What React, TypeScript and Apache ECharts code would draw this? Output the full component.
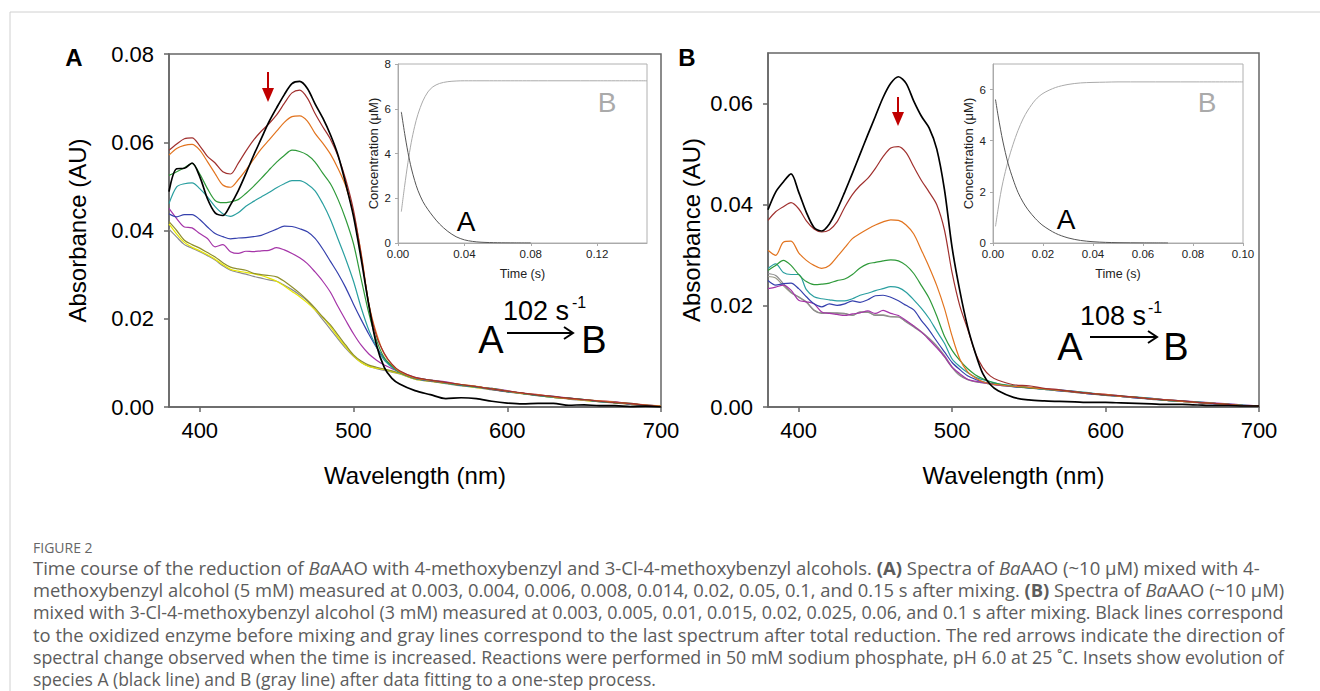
import React, { useEffect, useRef } from 'react';
import * as echarts from 'echarts';

const FONT = "'Liberation Sans', Arial, Helvetica, sans-serif";
const CAPTION_FONT = "'Open Sans', 'Noto Sans', sans-serif";

// ---------------- DATA ----------------
const wavelengths = [380,385,390,395,400,405,410,415,420,425,430,435,440,445,450,455,460,465,470,475,480,485,490,495,500,505,510,515,520,525,530,540,550,560,570,580,590,600,610,620,630,640,650,660,670,680,690,700];
const wlTicks = [400, 500, 600, 700];
const absTicksA = [0, 0.02, 0.04, 0.06, 0.08];
const absTicksB = [0, 0.02, 0.04, 0.06];

// Panel A spectra (AU)
const aBlack = [0.0488,0.0540,0.0541,0.0553,0.0522,0.0472,0.0440,0.0434,0.0458,0.0490,0.0529,0.0570,0.0608,0.0646,0.0678,0.0708,0.0733,0.0738,0.0722,0.0687,0.0655,0.0617,0.0570,0.0505,0.0432,0.0335,0.0230,0.0140,0.0090,0.0065,0.0052,
  0.0037,0.0028,0.0019,0.0021,0.0019,0.0013,0.0009,0.0007,0.0008,0.0008,0.0004,0.0005,0.0003,0.0003,0.0001,0.0002,0.0000];
const aT003 = [0.0582,0.0596,0.0608,0.0610,0.0592,0.0568,0.0553,0.0533,0.0528,0.0552,0.0580,0.0605,0.0625,0.0642,0.0662,0.0688,0.0712,0.0718,0.0700,0.0665,0.0635,0.0607,0.0568,0.0515,0.0446,0.0345,0.0232,0.0160,0.0122,0.0097,0.0082,
  0.0067,0.0061,0.0056,0.0051,0.0046,0.0041,0.0036,0.0032,0.0027,0.0024,0.0020,0.0017,0.0013,0.0010,0.0008,0.0004,0.0001];
const aT004 = [0.0571,0.0586,0.0593,0.0595,0.0582,0.0556,0.0529,0.0503,0.0498,0.0515,0.0537,0.0561,0.0585,0.0605,0.0625,0.0645,0.0658,0.0660,0.0648,0.0620,0.0598,0.0573,0.0540,0.0500,0.0438,0.0348,0.0234,0.0166,0.0120,0.0096,0.0080,
  0.0066,0.0060,0.0055,0.0051,0.0047,0.0041,0.0036,0.0031,0.0028,0.0023,0.0019,0.0016,0.0014,0.0011,0.0007,0.0005,0.0002];
const aT006 = [0.0525,0.0533,0.0542,0.0552,0.0528,0.0495,0.0468,0.0463,0.0465,0.0470,0.0484,0.0500,0.0518,0.0537,0.0555,0.0570,0.0582,0.0579,0.0571,0.0555,0.0530,0.0506,0.0470,0.0425,0.0370,0.0290,0.0212,0.0151,0.0112,0.0093,0.0079,
  0.0066,0.0061,0.0055,0.0050,0.0046,0.0042,0.0036,0.0031,0.0027,0.0023,0.0020,0.0017,0.0013,0.0010,0.0008,0.0004,0.0002];
const aT008 = [0.0461,0.0499,0.0506,0.0508,0.0495,0.0476,0.0454,0.0438,0.0432,0.0440,0.0455,0.0466,0.0476,0.0486,0.0497,0.0506,0.0513,0.0513,0.0505,0.0490,0.0461,0.0425,0.0380,0.0335,0.0285,0.0225,0.0174,0.0136,0.0106,0.0090,0.0078,
  0.0065,0.0060,0.0054,0.0050,0.0045,0.0041,0.0035,0.0030,0.0026,0.0022,0.0020,0.0016,0.0012,0.0010,0.0007,0.0004,0.0001];
const aT014 = [0.0438,0.0431,0.0436,0.0436,0.0425,0.0408,0.0393,0.0386,0.0381,0.0383,0.0384,0.0386,0.0389,0.0396,0.0403,0.0410,0.0409,0.0404,0.0397,0.0382,0.0358,0.0330,0.0302,0.0270,0.0233,0.0198,0.0165,0.0135,0.0110,0.0091,0.0079,
  0.0065,0.0059,0.0055,0.0049,0.0046,0.0040,0.0035,0.0031,0.0026,0.0024,0.0019,0.0017,0.0012,0.0011,0.0006,0.0005,0.0001];
const aT020 = [0.0450,0.0427,0.0408,0.0406,0.0393,0.0382,0.0363,0.0368,0.0352,0.0348,0.0353,0.0352,0.0354,0.0355,0.0361,0.0356,0.0348,0.0338,0.0325,0.0306,0.0285,0.0260,0.0227,0.0196,0.0166,0.0140,0.0120,0.0106,0.0095,0.0087,0.0080,
  0.0067,0.0061,0.0057,0.0050,0.0046,0.0042,0.0037,0.0031,0.0028,0.0023,0.0021,0.0016,0.0014,0.0012,0.0007,0.0004,0.0002];
const aT050 = [0.0420,0.0400,0.0378,0.0368,0.0360,0.0350,0.0340,0.0327,0.0317,0.0313,0.0310,0.0303,0.0300,0.0298,0.0295,0.0285,0.0272,0.0258,0.0242,0.0224,0.0204,0.0186,0.0163,0.0140,0.0118,0.0104,0.0095,0.0090,0.0086,0.0082,0.0077,
  0.0064,0.0059,0.0054,0.0049,0.0045,0.0040,0.0035,0.0031,0.0026,0.0022,0.0019,0.0016,0.0013,0.0010,0.0007,0.0004,0.0001];
const aT100 = [0.0415,0.0392,0.0373,0.0362,0.0354,0.0345,0.0335,0.0323,0.0312,0.0308,0.0305,0.0302,0.0298,0.0292,0.0285,0.0274,0.0262,0.0250,0.0236,0.0220,0.0203,0.0182,0.0158,0.0136,0.0116,0.0101,0.0092,0.0088,0.0085,0.0080,0.0076,
  0.0063,0.0058,0.0054,0.0049,0.0044,0.0040,0.0035,0.0030,0.0026,0.0022,0.0019,0.0015,0.0012,0.0010,0.0006,0.0004,0.0001];
const aT150 = [0.0403,0.0385,0.0368,0.0360,0.0352,0.0343,0.0333,0.0320,0.0310,0.0305,0.0301,0.0296,0.0292,0.0288,0.0285,0.0276,0.0266,0.0254,0.0240,0.0220,0.0198,0.0176,0.0154,0.0133,0.0115,0.0101,0.0092,0.0087,0.0083,0.0079,0.0075,
  0.0063,0.0058,0.0053,0.0048,0.0044,0.0039,0.0034,0.0030,0.0025,0.0022,0.0018,0.0015,0.0012,0.0009,0.0006,0.0003,0.0001];

// Panel B spectra (AU)
const bBlack = [0.0390,0.0425,0.0445,0.0461,0.0425,0.0385,0.0355,0.0348,0.0362,0.0390,0.0425,0.0462,0.0500,0.0538,0.0575,0.0612,0.0640,0.0653,0.0640,0.0605,0.0575,0.0552,0.0510,0.0430,0.0315,0.0230,0.0160,0.0108,0.0066,0.0044,0.0032,
  0.0019,0.0014,0.0012,0.0011,0.0010,0.0009,0.0009,0.0008,0.0007,0.0006,0.0005,0.0005,0.0004,0.0003,0.0003,0.0002,0.0002];
const bT003 = [0.0369,0.0386,0.0396,0.0404,0.0392,0.0368,0.0352,0.0346,0.0350,0.0366,0.0395,0.0420,0.0438,0.0452,0.0472,0.0495,0.0512,0.0515,0.0503,0.0475,0.0448,0.0425,0.0400,0.0350,0.0265,0.0200,0.0155,0.0108,0.0078,0.0061,0.0053,
  0.0044,0.0042,0.0037,0.0034,0.0030,0.0027,0.0024,0.0022,0.0019,0.0016,0.0014,0.0012,0.0009,0.0007,0.0005,0.0003,0.0002];
const bT005 = [0.0310,0.0300,0.0326,0.0328,0.0305,0.0290,0.0280,0.0274,0.0280,0.0297,0.0315,0.0333,0.0343,0.0352,0.0360,0.0366,0.0370,0.0369,0.0360,0.0342,0.0310,0.0277,0.0240,0.0195,0.0140,0.0095,0.0070,0.0058,0.0050,0.0046,0.0044,
  0.0041,0.0039,0.0036,0.0033,0.0030,0.0027,0.0025,0.0021,0.0019,0.0016,0.0014,0.0011,0.0009,0.0007,0.0005,0.0003,0.0002];
const bT010 = [0.0270,0.0280,0.0290,0.0280,0.0262,0.0248,0.0242,0.0243,0.0245,0.0250,0.0253,0.0262,0.0275,0.0283,0.0286,0.0289,0.0291,0.0289,0.0280,0.0264,0.0240,0.0215,0.0180,0.0140,0.0112,0.0092,0.0076,0.0064,0.0056,0.0050,0.0046,
  0.0041,0.0038,0.0036,0.0033,0.0030,0.0027,0.0024,0.0022,0.0019,0.0016,0.0013,0.0011,0.0009,0.0007,0.0005,0.0003,0.0002];
const bT015 = [0.0274,0.0283,0.0266,0.0262,0.0262,0.0232,0.0218,0.0214,0.0212,0.0210,0.0210,0.0214,0.0221,0.0225,0.0230,0.0234,0.0238,0.0236,0.0227,0.0212,0.0195,0.0175,0.0150,0.0126,0.0095,0.0080,0.0068,0.0059,0.0054,0.0050,0.0046,
  0.0042,0.0039,0.0035,0.0034,0.0031,0.0028,0.0024,0.0021,0.0020,0.0017,0.0014,0.0012,0.0010,0.0007,0.0005,0.0004,0.0002];
const bT020 = [0.0250,0.0241,0.0244,0.0245,0.0234,0.0218,0.0204,0.0198,0.0204,0.0201,0.0204,0.0210,0.0207,0.0212,0.0220,0.0221,0.0217,0.0210,0.0201,0.0192,0.0171,0.0152,0.0130,0.0109,0.0088,0.0074,0.0062,0.0055,0.0050,0.0047,0.0045,
  0.0040,0.0038,0.0036,0.0032,0.0030,0.0026,0.0024,0.0021,0.0018,0.0016,0.0013,0.0011,0.0009,0.0006,0.0005,0.0003,0.0001];
const bT025 = [0.0234,0.0237,0.0241,0.0231,0.0211,0.0208,0.0204,0.0188,0.0185,0.0183,0.0181,0.0184,0.0186,0.0190,0.0185,0.0191,0.0185,0.0181,0.0171,0.0160,0.0148,0.0133,0.0117,0.0100,0.0079,0.0066,0.0055,0.0051,0.0048,0.0046,0.0043,
  0.0041,0.0039,0.0036,0.0034,0.0031,0.0027,0.0025,0.0022,0.0019,0.0017,0.0014,0.0012,0.0010,0.0008,0.0006,0.0004,0.0002];
const bT060 = [0.0258,0.0255,0.0240,0.0226,0.0217,0.0207,0.0192,0.0186,0.0186,0.0185,0.0184,0.0182,0.0187,0.0187,0.0182,0.0182,0.0179,0.0178,0.0169,0.0160,0.0149,0.0136,0.0121,0.0102,0.0079,0.0063,0.0055,0.0050,0.0048,0.0045,0.0043,
  0.0040,0.0038,0.0035,0.0033,0.0029,0.0026,0.0023,0.0021,0.0018,0.0016,0.0013,0.0011,0.0009,0.0007,0.0005,0.0003,0.0002];
const bT100 = [0.0264,0.0260,0.0244,0.0227,0.0218,0.0208,0.0191,0.0185,0.0186,0.0186,0.0185,0.0181,0.0188,0.0188,0.0181,0.0181,0.0178,0.0178,0.0168,0.0158,0.0148,0.0135,0.0120,0.0099,0.0078,0.0062,0.0054,0.0050,0.0048,0.0045,0.0043,
  0.0040,0.0038,0.0035,0.0032,0.0029,0.0026,0.0023,0.0021,0.0018,0.0015,0.0013,0.0011,0.0008,0.0007,0.0005,0.0003,0.0002];

// Inset A (concentration, µM vs time, s)
const insetATime = [0.002,0.004,0.006,0.008,0.010,0.012,0.015,0.018,0.021,0.025,0.03,0.035,0.04,0.045,0.05,0.06,0.07,0.08,0.1,0.12,0.15];
const insetASpeciesA = [5.86,4.9,4.05,3.35,2.8,2.35,1.85,1.5,1.2,0.85,0.52,0.28,0.14,0.07,0.035,0.01,0.003,0.0,null,null,null];
const insetASpeciesB = [1.4,2.55,3.6,4.5,5.2,5.75,6.35,6.75,6.98,7.13,7.21,7.24,7.25,7.25,7.25,7.25,7.25,7.25,7.25,7.25,7.25];
const insetAXTicks = [0, 0.04, 0.08, 0.12];
const insetAYTicks = [0, 2, 4, 6, 8];

// Inset B
const insetBTime = [0.001,0.002,0.003,0.004,0.006,0.008,0.010,0.012,0.014,0.017,0.02,0.025,0.03,0.035,0.04,0.045,0.05,0.06,0.07,0.08,0.1];
const insetBSpeciesA = [5.61,5.0,4.45,3.95,3.12,2.5,1.98,1.6,1.3,0.95,0.68,0.38,0.2,0.1,0.05,0.025,0.012,0.003,0.0,null,null];
const insetBSpeciesB = [0.65,1.3,1.9,2.4,3.2,3.85,4.4,4.85,5.2,5.6,5.85,6.08,6.2,6.26,6.28,6.29,6.3,6.3,6.3,6.3,6.3];
const insetBXTicks = [0, 0.02, 0.04, 0.06, 0.08, 0.1];
const insetBYTicks = [0, 2, 4, 6];

// Caption
type Seg = { t: string; s?: 'i' | 'b' };
const captionTitle = 'FIGURE 2';
const captionLines: Seg[][] = [
  [{ t: 'Time course of the reduction of ' }, { t: 'Ba', s: 'i' }, { t: 'AAO with 4-methoxybenzyl and 3-Cl-4-methoxybenzyl alcohols. ' }, { t: '(A)', s: 'b' }, { t: ' Spectra of ' }, { t: 'Ba', s: 'i' }, { t: 'AAO (~10 μM) mixed with 4-' }],
  [{ t: 'methoxybenzyl alcohol (5 mM) measured at 0.003, 0.004, 0.006, 0.008, 0.014, 0.02, 0.05, 0.1, and 0.15 s after mixing. ' }, { t: '(B)', s: 'b' }, { t: ' Spectra of ' }, { t: 'Ba', s: 'i' }, { t: 'AAO (~10 μM)' }],
  [{ t: 'mixed with 3-Cl-4-methoxybenzyl alcohol (3 mM) measured at 0.003, 0.005, 0.01, 0.015, 0.02, 0.025, 0.06, and 0.1 s after mixing. Black lines correspond' }],
  [{ t: 'to the oxidized enzyme before mixing and gray lines correspond to the last spectrum after total reduction. The red arrows indicate the direction of' }],
  [{ t: 'spectral change observed when the time is increased. Reactions were performed in 50 mM sodium phosphate, pH 6.0 at 25 ˚C. Insets show evolution of' }],
  [{ t: 'species A (black line) and B (gray line) after data fitting to a one-step process.' }],
];

// ---------------- HELPERS ----------------
const zip = (xs: number[], ys: (number | null)[]) =>
  xs.map((x, i) => [x, ys[i]]).filter((p) => p[1] !== null && p[1] !== undefined);

const measureSegs = (segs: Seg[], size: number) => {
  const ctx = document.createElement('canvas').getContext('2d');
  if (!ctx) return 0;
  let w = 0;
  for (const s of segs) {
    ctx.font = `${s.s === 'i' ? 'italic ' : ''}${s.s === 'b' ? 'bold ' : ''}${size}px ${CAPTION_FONT}`;
    w += ctx.measureText(s.t).width;
  }
  return w;
};

const txt = (text: string, x: number, y: number, size: number, opts: any = {}) => ({
  type: 'text',
  x,
  y,
  silent: true,
  style: {
    text,
    fill: opts.fill || '#000',
    fontSize: size,
    fontFamily: opts.fontFamily || FONT,
    fontWeight: opts.fontWeight || 'normal',
    lineHeight: opts.lineHeight,
    align: opts.align || 'center',
    verticalAlign: 'middle',
    textAlign: opts.align || 'center',
    textVerticalAlign: 'middle',
  },
});

const line = (x1: number, y1: number, x2: number, y2: number, stroke: string, lineWidth: number) => ({
  type: 'line',
  silent: true,
  shape: { x1, y1, x2, y2 },
  style: { stroke, lineWidth },
});

export default function App() {
  const ref = useRef<HTMLDivElement>(null);

  useEffect(() => {
    if (!ref.current) return;
    const chart = echarts.init(ref.current, undefined, { renderer: 'svg' });

    const fmt2 = (v: number) => v.toFixed(2);
    const mainX = (gridIndex: number) => ({
      type: 'value', gridIndex, min: 380, max: 700,
      axisLine: { show: true, onZero: false, lineStyle: { color: '#666', width: 1.5 } },
      axisTick: { show: true, inside: false, length: 5, customValues: wlTicks, lineStyle: { color: '#666', width: 1.5 } },
      axisLabel: { customValues: wlTicks, fontSize: 22, color: '#000', margin: 12, fontFamily: FONT },
      splitLine: { show: false },
      name: 'Wavelength (nm)', nameLocation: 'middle', nameGap: 56,
      nameTextStyle: { fontSize: 24, color: '#000', fontFamily: FONT },
    });
    const mainY = (gridIndex: number, max: number, ticks: number[], gap: number) => ({
      type: 'value', gridIndex, min: 0, max,
      axisLine: { show: true, onZero: false, lineStyle: { color: '#666', width: 1.5 } },
      axisTick: { show: true, inside: false, length: 5, customValues: ticks, lineStyle: { color: '#666', width: 1.5 } },
      axisLabel: { customValues: ticks, fontSize: 22, color: '#000', margin: 15, fontFamily: FONT, formatter: fmt2 },
      splitLine: { show: false },
      name: 'Absorbance (AU)', nameLocation: 'middle', nameGap: gap,
      nameTextStyle: { fontSize: 24, color: '#000', fontFamily: FONT },
    });
    const insetX = (gridIndex: number, max: number, ticks: number[]) => ({
      type: 'value', gridIndex, min: 0, max,
      axisLine: { show: true, onZero: false, lineStyle: { color: '#aaa', width: 1 } },
      axisTick: { show: true, inside: false, length: 3, customValues: ticks, lineStyle: { color: '#aaa' } },
      axisLabel: { customValues: ticks, fontSize: 11.5, color: '#222', margin: 5, fontFamily: FONT, formatter: fmt2 },
      splitLine: { show: false },
      name: 'Time (s)', nameLocation: 'middle', nameGap: 24,
      nameTextStyle: { fontSize: 12.5, color: '#222', fontFamily: FONT },
    });
    const insetY = (gridIndex: number, max: number, ticks: number[]) => ({
      type: 'value', gridIndex, min: 0, max,
      axisLine: { show: true, onZero: false, lineStyle: { color: '#aaa', width: 1 } },
      axisTick: { show: true, inside: false, length: 3, customValues: ticks, lineStyle: { color: '#aaa' } },
      axisLabel: { customValues: ticks, fontSize: 11.5, color: '#222', margin: 7, fontFamily: FONT, formatter: (v: number) => String(v) },
      splitLine: { show: false },
      name: 'Concentration (μM)', nameLocation: 'middle', nameGap: 18,
      nameTextStyle: { fontSize: 13, color: '#222', fontFamily: FONT },
    });

    const spectrum = (xi: number, values: number[], color: string, width = 1.2) => ({
      type: 'line', xAxisIndex: xi, yAxisIndex: xi,
      data: zip(wavelengths, values), showSymbol: false, smooth: 0.3,
      lineStyle: { color, width }, silent: true,
    });
    const kinetic = (xi: number, t: number[], c: (number | null)[], color: string) => ({
      type: 'line', xAxisIndex: xi, yAxisIndex: xi,
      data: zip(t, c), showSymbol: false, smooth: 0.3,
      lineStyle: { color, width: 1 }, silent: true,
    });

    // Caption graphics
    const capColor = '#5c5c5c';
    const capLH = 20;
    const rich = (fs: number) => ({
      i: { fontSize: fs, lineHeight: capLH, fontFamily: CAPTION_FONT, fontStyle: 'italic', fill: capColor },
      b: { fontSize: fs, lineHeight: capLH, fontFamily: CAPTION_FONT, fontWeight: 'bold', fill: capColor },
    });
    const captionY = [567, 589.4, 611.8, 634.2, 656.6, 679];
    const captionTargets = [1252, 1252, 1252, 1252, 1252, 673];
    const captionEls = captionLines.map((segs, k) => {
      const natural = measureSegs(segs, 16);
      let fs = natural > 0 ? (16 * captionTargets[k]) / natural : 16;
      fs = Math.max(13, Math.min(k === 5 ? 17.5 : 18.5, fs));
      const text = segs.map((s) => (s.s ? `{${s.s}|${s.t}}` : s.t)).join('');
      return {
        type: 'text', x: 33, y: captionY[k], silent: true,
        style: {
          text, rich: rich(fs), fontSize: fs, lineHeight: capLH, fontFamily: CAPTION_FONT, fill: capColor,
          align: 'left', verticalAlign: 'middle', textAlign: 'left', textVerticalAlign: 'middle',
        },
      };
    });

    const red = '#c00000';
    const option: any = {
      animation: false,
      backgroundColor: '#fff',
      textStyle: { fontFamily: FONT },
      grid: [
        { left: 169, top: 54, width: 492, height: 353, show: true, borderColor: '#666', borderWidth: 1.5 },
        { left: 398, top: 64, width: 249, height: 179, show: true, borderColor: '#b0b0b0', borderWidth: 1 },
        { left: 768, top: 53, width: 491, height: 354, show: true, borderColor: '#666', borderWidth: 1.5 },
        { left: 993, top: 64, width: 250, height: 179, show: true, borderColor: '#b0b0b0', borderWidth: 1 },
      ],
      xAxis: [mainX(0), insetX(1, 0.15, insetAXTicks), mainX(2), insetX(3, 0.1, insetBXTicks)],
      yAxis: [mainY(0, 0.08, absTicksA, 80), insetY(1, 8, insetAYTicks), mainY(2, 0.07, absTicksB, 65), insetY(3, 7, insetBYTicks)],
      series: [
        spectrum(0, aT150, '#8c8c8c'),
        spectrum(0, aT100, '#e8e800'),
        spectrum(0, aT050, '#8f8f2e'),
        spectrum(0, aT020, '#a535a8'),
        spectrum(0, aT014, '#3540ad'),
        spectrum(0, aT008, '#2a9fa0'),
        spectrum(0, aT006, '#2f9a3a'),
        spectrum(0, aT004, '#e2741f'),
        spectrum(0, aT003, '#a0302e'),
        spectrum(0, aBlack, '#000', 1.7),
        kinetic(1, insetATime, insetASpeciesB, '#aaa'),
        kinetic(1, insetATime, insetASpeciesA, '#555'),
        spectrum(2, bT060, '#9a9a8a'),
        spectrum(2, bT100, '#8c8c8c'),
        spectrum(2, bT025, '#a535a8'),
        spectrum(2, bT020, '#3540ad'),
        spectrum(2, bT015, '#2a9fa0'),
        spectrum(2, bT010, '#2f9a3a'),
        spectrum(2, bT005, '#e2741f'),
        spectrum(2, bT003, '#a0302e'),
        spectrum(2, bBlack, '#000', 1.7),
        kinetic(3, insetBTime, insetBSpeciesB, '#aaa'),
        kinetic(3, insetBTime, insetBSpeciesA, '#555'),
      ],
      graphic: [
        // page frame
        line(10, 12, 1320, 12, '#d0d0d0', 1),
        line(10, 12, 10, 691, '#d0d0d0', 1),
        // panel labels
        txt('A', 74, 57, 24, { fontWeight: 'bold' }),
        txt('B', 687, 57, 24, { fontWeight: 'bold' }),
        // red arrows
        line(268, 72, 268, 90, red, 2),
        { type: 'polygon', silent: true, shape: { points: [[262, 88], [274, 88], [268, 102]] }, style: { fill: red } },
        line(898, 97, 898, 114, red, 2),
        { type: 'polygon', silent: true, shape: { points: [[892, 112], [904, 112], [898, 126]] }, style: { fill: red } },
        // inset letters
        txt('B', 607, 102, 28, { fill: '#aaa' }),
        txt('A', 466, 221, 28),
        txt('B', 1207, 102, 28, { fill: '#aaa' }),
        txt('A', 1066, 219, 28),
        // reaction scheme A
        txt('102 s', 536, 311, 27),
        txt('-1', 579, 302, 16),
        txt('A', 491, 340, 38),
        txt('B', 594, 340, 38),
        line(507, 333, 573, 333, '#000', 2),
        { type: 'polyline', silent: true, shape: { points: [[564, 327], [573, 333], [564, 339]] }, style: { stroke: '#000', lineWidth: 2, fill: null } },
        // reaction scheme B
        txt('108 s', 1113, 316, 27),
        txt('-1', 1155, 307, 16),
        txt('A', 1070, 347, 38),
        txt('B', 1176, 347, 38),
        line(1090, 337, 1157, 337, '#000', 2),
        { type: 'polyline', silent: true, shape: { points: [[1148, 331], [1157, 337], [1148, 343]] }, style: { stroke: '#000', lineWidth: 2, fill: null } },
        // caption
        txt(captionTitle, 33, 547, 14, { fill: '#666', fontFamily: CAPTION_FONT, align: 'left', lineHeight: 16 }),
        ...captionEls,
      ],
    };

    chart.setOption(option);
    return () => chart.dispose();
  }, []);

  return (
    <div
      ref={ref}
      style={{ position: 'absolute', left: 0, top: 0, width: 1320, height: 691, background: '#fff' }}
    />
  );
}
